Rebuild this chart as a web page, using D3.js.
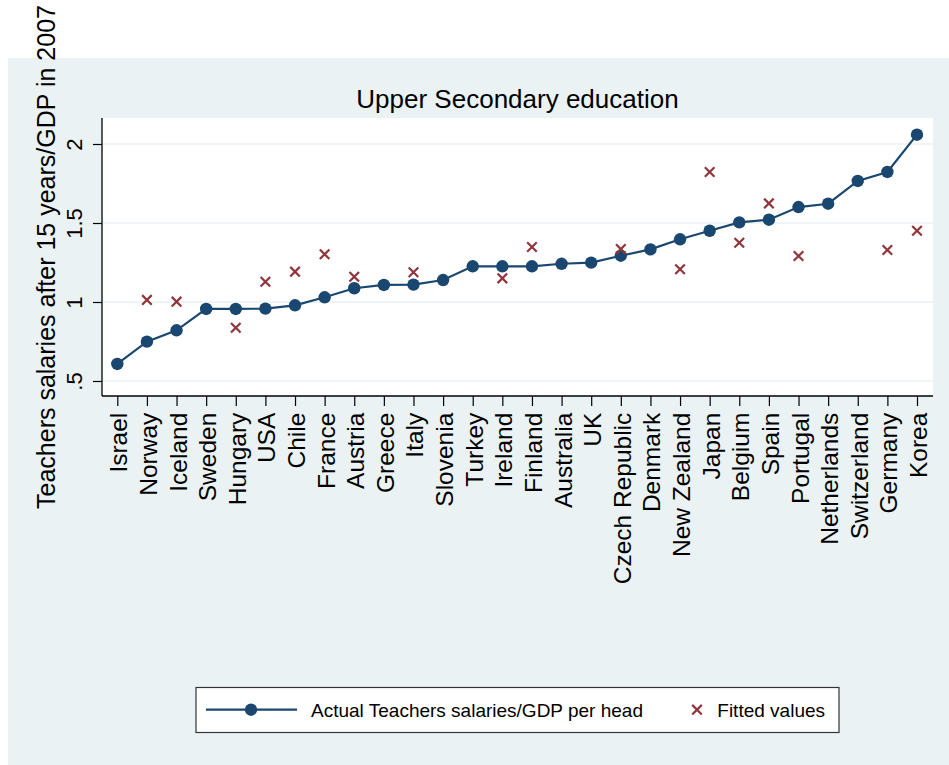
<!DOCTYPE html>
<html>
<head>
<meta charset="utf-8">
<script src="https://cdn.jsdelivr.net/npm/d3@7"></script>
<style>
	body { margin: 0; background: #fff; }
	svg { display: block; font-family: "Liberation Sans", Arial, sans-serif; }
</style>
</head>
<body>
<div id="chart-area"></div>
<script>
// values
var countries = ['Israel', 'Norway', 'Iceland', 'Sweden', 'Hungary', 'USA', 'Chile', 'France', 'Austria', 'Greece',
	'Italy', 'Slovenia', 'Turkey', 'Ireland', 'Finland', 'Australia', 'UK', 'Czech Republic', 'Denmark', 'New Zealand',
	'Japan', 'Belgium', 'Spain', 'Portugal', 'Netherlands', 'Switzerland', 'Germany', 'Korea'];
var actual = [0.608, 0.749, 0.821, 0.956, 0.956, 0.958, 0.979, 1.03, 1.087, 1.108,
	1.110, 1.139, 1.226, 1.226, 1.226, 1.242, 1.249, 1.293, 1.333, 1.397,
	1.451, 1.504, 1.521, 1.601, 1.622, 1.766, 1.823, 2.059];
var fitted = [null, 1.013, 1.002, null, 0.837, 1.128, 1.192, 1.302, 1.160, null,
	1.188, null, null, 1.150, 1.348, null, null, 1.335, null, 1.207,
	1.823, 1.375, 1.624, 1.291, null, null, 1.329, 1.451];
var yTicks = [0.5, 1, 1.5, 2];
var yTickLabels = ['.5', '1', '1.5', '2'];

var navy = '#1a476f';
var maroon = '#90353b';
var bg = '#eaf2f3';

var svg = d3.select('#chart-area').append('svg')
			.attr('width', 949)
			.attr('height', 765);

// outer graph region
svg.append('rect').attr('x', 8).attr('y', 58).attr('width', 941).attr('height', 707).attr('fill', bg);

var plot = { left: 102, right: 933, top: 118, bottom: 396 };

svg.append('rect')
	.attr('x', plot.left).attr('y', plot.top)
	.attr('width', plot.right - plot.left).attr('height', plot.bottom - plot.top)
	.attr('fill', '#fff');

var x = d3.scalePoint().domain(countries).range([117.3, 917]);
var y = d3.scaleLinear().domain([0.5, 2]).range([381, 144]);

// grid lines
svg.append('g').selectAll('line').data(yTicks).enter()
	.append('line')
		.attr('x1', plot.left).attr('x2', plot.right)
		.attr('y1', d => y(d)).attr('y2', d => y(d))
		.attr('stroke', bg).attr('stroke-width', 1.6);

// y axis
var yAxisCall = d3.axisLeft(y).tickValues(yTicks).tickFormat((d, i) => yTickLabels[i]).tickSize(9).tickSizeOuter(0);
var yAxis = svg.append('g').attr('transform', `translate(${plot.left}, 0)`).call(yAxisCall);
yAxis.select('.domain').remove();
yAxis.selectAll('line').attr('stroke', '#000').attr('stroke-width', 1.2);
yAxis.selectAll('text')
	.attr('x', 0).attr('y', 0).attr('dy', 0)
	.attr('text-anchor', 'middle')
	.attr('transform', 'translate(-20.5, 0) rotate(-90)')
	.attr('font-size', '22px')
	.attr('font-family', '"Liberation Sans", Arial, sans-serif')
	.attr('fill', '#000');

// x axis
var xAxisCall = d3.axisBottom(x).tickSize(10).tickSizeOuter(0);
var xAxis = svg.append('g').attr('transform', `translate(0, ${plot.bottom})`).call(xAxisCall);
xAxis.select('.domain').remove();
xAxis.selectAll('line').attr('stroke', '#000').attr('stroke-width', 1.2);
xAxis.selectAll('text')
	.attr('x', 0).attr('y', 0).attr('dy', 0)
	.attr('text-anchor', 'end')
	.attr('transform', 'translate(9.5, 16.7) rotate(-90)')
	.attr('font-size', '24.5px')
	.attr('font-family', '"Liberation Sans", Arial, sans-serif')
	.attr('fill', '#000');

// axis lines
svg.append('line').attr('x1', plot.left).attr('x2', plot.left).attr('y1', plot.top).attr('y2', plot.bottom)
	.attr('stroke', '#000').attr('stroke-width', 1.3);
svg.append('line').attr('x1', plot.left).attr('x2', plot.right).attr('y1', plot.bottom).attr('y2', plot.bottom)
	.attr('stroke', '#000').attr('stroke-width', 1.3);

// titles
svg.append('text')
	.attr('x', (plot.left + plot.right) / 2)
	.attr('y', 108)
	.attr('text-anchor', 'middle')
	.attr('font-size', '26px')
	.text('Upper Secondary education');

svg.append('text')
	.attr('transform', `translate(55, ${(plot.top + plot.bottom) / 2}) rotate(-90)`)
	.attr('text-anchor', 'middle')
	.attr('font-size', '25px')
	.text('Teachers salaries after 15 years/GDP in 2007');

// actual series
var line = d3.line().x((d, i) => x(countries[i])).y(d => y(d));
svg.append('path').datum(actual)
	.attr('d', line)
	.attr('fill', 'none')
	.attr('stroke', navy)
	.attr('stroke-width', 2.2);

svg.append('g').selectAll('circle').data(actual).enter()
	.append('circle')
		.attr('cx', (d, i) => x(countries[i]))
		.attr('cy', d => y(d))
		.attr('r', 6.2)
		.attr('fill', navy);

// fitted values
var cross = 'M-4.8,-4.8L4.8,4.8M-4.8,4.8L4.8,-4.8';
svg.append('g').selectAll('path')
	.data(fitted.map((v, i) => ({ c: countries[i], v: v })).filter(d => d.v != null))
	.enter()
	.append('path')
		.attr('d', cross)
		.attr('transform', d => `translate(${x(d.c)}, ${y(d.v)})`)
		.attr('stroke', maroon)
		.attr('stroke-width', 2.2)
		.attr('fill', 'none');

// legend
var legend = svg.append('g');
legend.append('rect')
	.attr('x', 196).attr('y', 687.5).attr('width', 643).attr('height', 45)
	.attr('fill', '#fff').attr('stroke', '#333').attr('stroke-width', 1.2);
legend.append('line')
	.attr('x1', 206).attr('x2', 297).attr('y1', 709.7).attr('y2', 709.7)
	.attr('stroke', navy).attr('stroke-width', 2.2);
legend.append('circle').attr('cx', 251).attr('cy', 709.7).attr('r', 6.2).attr('fill', navy);
legend.append('text')
	.attr('x', 311).attr('y', 717.3)
	.attr('font-size', '19px')
	.text('Actual Teachers salaries/GDP per head');
legend.append('path')
	.attr('d', cross)
	.attr('transform', 'translate(697, 709.7)')
	.attr('stroke', maroon).attr('stroke-width', 2.2).attr('fill', 'none');
legend.append('text')
	.attr('x', 717.3).attr('y', 717.3)
	.attr('font-size', '19px')
	.text('Fitted values');
</script>
</body>
</html>
